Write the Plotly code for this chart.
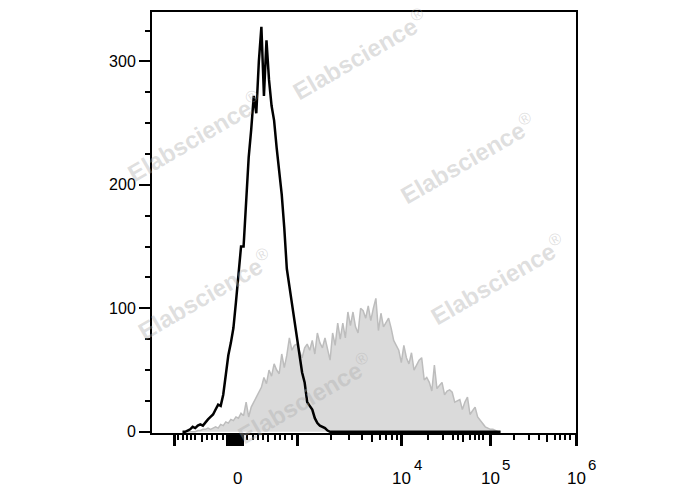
import plotly.graph_objects as go

# Histogram bins (channel units on a 0-1000 display scale)
bin_start = 72
bin_step = 6
n_bins = 126
channels = [bin_start + bin_step * k for k in range(n_bins)]

# Unstained / control (black outline)
control_counts = [
    0, 0, 1, 2, 4, 3, 5, 6, 5, 8,
    10, 12, 14, 18, 22, 21, 30, 46, 62, 72,
    84, 105, 130, 150, 150, 185, 222, 245, 272, 258,
    300, 328, 272, 317, 285, 264, 252, 230, 210, 192,
    165, 132, 118, 104, 86, 72, 60, 48, 40, 24,
    21, 18, 11, 7, 5, 4, 3, 1, 0, 0,
] + [0] * 66

# Stained sample (grey filled)
stained_counts = [
    0, 0, 0, 0, 0, 0, 1, 1, 2, 2,
    3, 2, 3, 4, 3, 6, 5, 8, 7, 10,
    9, 12, 11, 15, 13, 24, 12, 20, 24, 28,
    31, 36, 44, 39, 50, 45, 55, 50, 47, 63,
    52, 62, 76, 66, 70, 71, 65, 60, 68, 71,
    66, 74, 63, 80, 72, 68, 76, 66, 58, 80,
    70, 88, 75, 88, 76, 97, 86, 97, 85, 80,
    100, 98, 92, 102, 90, 100, 108, 82, 96, 85,
    88, 92, 84, 74, 70, 66, 56, 70, 60, 55,
    64, 50, 54, 58, 60, 42, 44, 40, 33, 54,
    35, 38, 40, 30, 33, 34, 32, 24, 25, 26,
    18, 24, 28, 14, 17, 20, 12, 9, 6, 4,
    3, 2, 2, 1, 0, 0,
]

y_tick_vals = [0, 100, 200, 300]
y_tick_text = ["0", "100", "200", "300"]
y_minor_vals = [25, 50, 75, 125, 150, 175, 225, 250, 275, 325]

x_label_pos = [200.5, 589.6, 797.2, 1000]
x_label_base = ["0", "10", "10", "10"]
x_label_exp = ["", "4", "5", "6"]

x_major = [51.9, 179.2, 181.6, 184.0, 186.3, 188.7, 191.0, 193.4, 195.7, 198.1,
           200.4, 202.8, 205.1, 207.5, 209.9, 212.3, 342.0, 589.6, 797.2, 1000]
x_medium = [117.9, 273.6, 518.9, 733.5, 931.6]
x_minor = [61.3, 73.1, 82.5, 92.0, 101.4, 129.7, 141.5, 153.3, 167.5,
           224.1, 238.2, 250.0, 261.8, 290.1, 301.9, 313.7, 330.2,
           422.2, 464.6, 495.3, 537.7, 551.9, 566.0, 577.8,
           650.9, 686.3, 709.9, 721.7, 750.0, 761.8, 771.2, 780.7,
           853.8, 889.2, 912.7, 950.5, 962.3, 974.1, 985.8]

fig = go.Figure()

fig.add_trace(go.Scatter(
    x=channels, y=stained_counts, mode="lines",
    line=dict(color="#bdbdbd", width=1.5),
    fill="tozeroy", fillcolor="#dadada",
    showlegend=False, hoverinfo="skip",
))
fig.add_trace(go.Scatter(
    x=channels, y=control_counts, mode="lines",
    line=dict(color="#000000", width=2.5),
    showlegend=False, hoverinfo="skip",
))
# invisible trace to activate the medium-tick overlay axis
fig.add_trace(go.Scatter(
    x=[0, 1000], y=[0, 0], xaxis="x2", mode="lines",
    line=dict(width=0), opacity=0, showlegend=False, hoverinfo="skip",
))

font_fam = "Liberation Sans, Arial, sans-serif"

fig.update_layout(
    width=688, height=490,
    margin=dict(l=144, r=120, t=2, b=65),
    paper_bgcolor="white", plot_bgcolor="white",
    xaxis=dict(
        range=[0, 1000], showgrid=False, zeroline=False,
        showline=True, linecolor="black", linewidth=2, mirror=True,
        ticks="outside", tickvals=x_major, ticklen=11, tickwidth=2.5,
        tickcolor="black", showticklabels=False,
        minor=dict(tickvals=x_minor, ticks="outside", ticklen=5,
                   tickwidth=1.5, tickcolor="black", showgrid=False),
    ),
    xaxis2=dict(
        range=[0, 1000], overlaying="x", anchor="y", side="bottom",
        showgrid=False, zeroline=False, showline=False,
        ticks="outside", tickvals=x_medium, ticklen=8, tickwidth=2,
        tickcolor="black", showticklabels=False,
    ),
    yaxis=dict(
        range=[-1, 340], showgrid=False, zeroline=False,
        showline=True, linecolor="black", linewidth=2, mirror=True,
        ticks="outside", tickvals=y_tick_vals, ticktext=y_tick_text,
        ticklen=11, tickwidth=2, tickcolor="black",
        tickfont=dict(family=font_fam, size=16, color="black"),
        minor=dict(tickvals=y_minor_vals, ticks="outside", ticklen=5,
                   tickwidth=1.5, tickcolor="black", showgrid=False),
    ),
    font=dict(family=font_fam, size=16, color="black"),
)

# x tick labels: base text centred on the tick, exponent raised to its right
for xv, base, ex in zip(x_label_pos, x_label_base, x_label_exp):
    fig.add_annotation(
        x=xv, y=-0.108, xref="x", yref="paper",
        text=base, showarrow=False, yanchor="middle", xanchor="center",
        font=dict(family=font_fam, size=17, color="black"),
    )
    if ex:
        fig.add_annotation(
            x=xv, y=-0.076, xref="x", yref="paper",
            text=ex, showarrow=False, yanchor="middle", xanchor="left",
            xshift=10,
            font=dict(family=font_fam, size=15, color="black"),
        )

# watermarks (centres in plot-area pixel coordinates)
wm_x = [360, 195, 468, 205, 498, 305]
wm_y = [52, 135, 157, 293, 278, 398]
for px, py in zip(wm_x, wm_y):
    fig.add_annotation(
        x=(px - 152) / 424, y=1 - (py - 10) / 423, xref="paper", yref="paper",
        xanchor="center", yanchor="middle",
        text="<b>Elabscience</b><sup>®</sup>", showarrow=False, textangle=-30,
        font=dict(family=font_fam, size=24, color="rgba(170,170,170,0.38)"),
    )

fig.write_html("out.html")
